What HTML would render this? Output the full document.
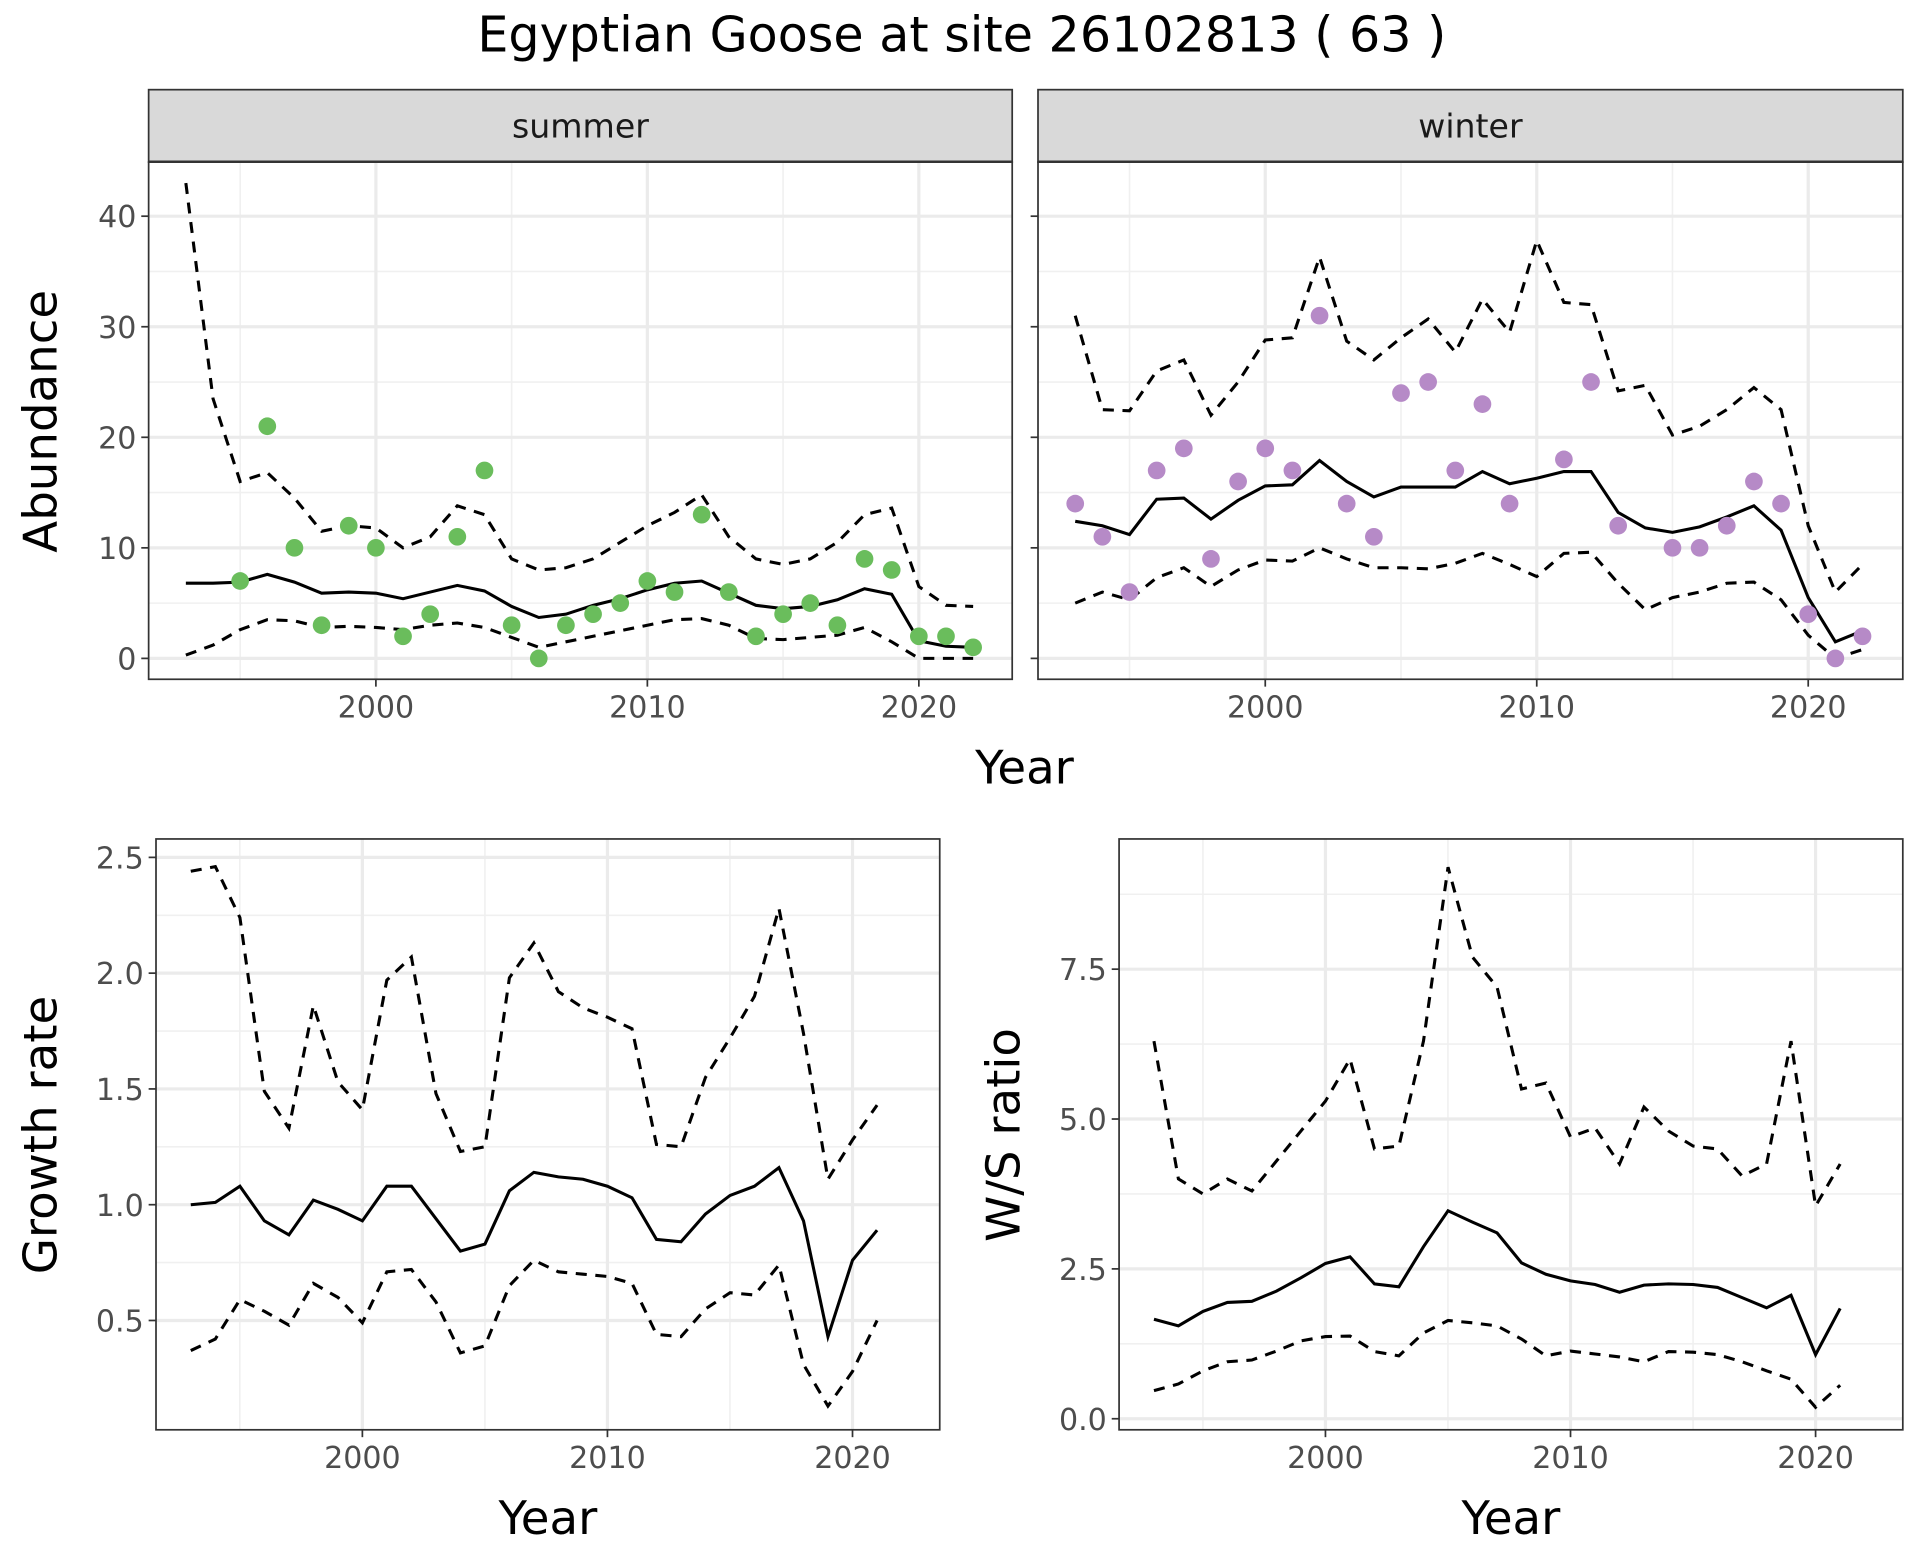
<!DOCTYPE html>
<html><head><meta charset="utf-8"><style>html,body{margin:0;padding:0;background:#fff}svg{display:block;font-family:"DejaVu Sans","Liberation Sans",sans-serif}</style></head>
<body>
<svg id="c" width="1920" height="1560" viewBox="0 0 1563 1270" preserveAspectRatio="none" xmlns="http://www.w3.org/2000/svg"></svg>
<script>
const yearsA = [1993,1994,1995,1996,1997,1998,1999,2000,2001,2002,2003,2004,2005,2006,2007,2008,2009,2010,2011,2012,2013,2014,2015,2016,2017,2018,2019,2020,2021,2022];
const summerPts = [null,null,7,21,10,3,12,10,2,4,11,17,3,0,3,4,5,7,6,13,6,2,4,5,3,9,8,2,2,1];
const summerMean = [6.8,6.8,6.9,7.6,6.9,5.9,6.0,5.9,5.4,6.0,6.6,6.1,4.7,3.7,4.0,4.8,5.4,6.2,6.8,7.0,5.9,4.8,4.5,4.7,5.3,6.3,5.8,1.6,1.1,1.0];
const summerUp = [43,23.5,16,16.8,14.5,11.5,12,11.8,10,11,13.8,13,9,8,8.2,9,10.5,12,13.2,14.8,11,9,8.5,9,10.5,13,13.6,6.5,4.8,4.7];
const summerLo = [0.3,1.2,2.6,3.5,3.4,2.8,2.9,2.8,2.6,3.0,3.2,2.8,1.9,1.0,1.5,2.0,2.5,3.0,3.5,3.6,3.0,1.8,1.7,1.9,2.1,2.8,1.5,0,0,0];
const winterPts = [14,11,6,17,19,9,16,19,17,31,14,11,24,25,17,23,14,null,18,25,12,null,10,10,12,16,14,4,0,2];
const winterMean = [12.4,12.0,11.2,14.4,14.5,12.6,14.3,15.6,15.7,17.9,16.0,14.6,15.5,15.5,15.5,16.9,15.8,16.3,16.9,16.9,13.2,11.8,11.4,11.9,12.8,13.8,11.6,5.5,1.5,2.5];
const winterUp = [31,22.5,22.4,26,27,22,25,28.8,29,36.3,28.7,27,29,30.7,27.7,32.5,29.5,37.8,32.2,32,24.2,24.7,20.2,21,22.5,24.5,22.5,12,6,8.5];
const winterLo = [5,6,5.3,7.3,8.2,6.5,8,8.9,8.8,10,9,8.2,8.2,8.1,8.6,9.5,8.5,7.4,9.5,9.6,6.8,4.4,5.5,6,6.8,6.9,5.3,2.1,0,0.8];
const yearsB = [1993,1994,1995,1996,1997,1998,1999,2000,2001,2002,2003,2004,2005,2006,2007,2008,2009,2010,2011,2012,2013,2014,2015,2016,2017,2018,2019,2020,2021];
const growthMean = [1.0,1.01,1.08,0.93,0.87,1.02,0.98,0.93,1.08,1.08,0.94,0.80,0.83,1.06,1.14,1.12,1.11,1.08,1.03,0.85,0.84,0.96,1.04,1.08,1.16,0.93,0.43,0.76,0.89];
const growthUp = [2.44,2.46,2.24,1.49,1.33,1.86,1.53,1.41,1.97,2.07,1.48,1.23,1.25,1.98,2.13,1.92,1.85,1.81,1.76,1.26,1.25,1.55,1.72,1.90,2.28,1.74,1.11,1.28,1.43];
const growthLo = [0.37,0.42,0.59,0.54,0.48,0.66,0.60,0.49,0.71,0.72,0.58,0.36,0.39,0.65,0.76,0.71,0.70,0.69,0.66,0.44,0.43,0.55,0.62,0.61,0.74,0.31,0.13,0.28,0.50];
const wsMean = [1.66,1.55,1.79,1.94,1.96,2.13,2.35,2.59,2.70,2.25,2.20,2.87,3.47,3.28,3.10,2.60,2.41,2.30,2.24,2.11,2.23,2.25,2.24,2.19,2.02,1.85,2.06,1.07,1.84];
const wsUp = [6.3,4.0,3.75,4.0,3.8,4.3,4.8,5.3,6.0,4.5,4.55,6.3,9.2,7.7,7.2,5.5,5.6,4.7,4.85,4.25,5.2,4.8,4.55,4.5,4.05,4.25,6.3,3.55,4.25];
const wsLo = [0.47,0.58,0.80,0.95,0.98,1.13,1.30,1.37,1.38,1.12,1.05,1.43,1.64,1.60,1.55,1.33,1.05,1.13,1.08,1.03,0.95,1.12,1.11,1.07,0.95,0.80,0.66,0.19,0.56];
const xTicks = [2000,2010,2020];
const xMinor = [1995,2005,2015];
const abTicks = [0,10,20,30,40];
const abMinor = [5,15,25,35];
const grTicks = [0.5,1.0,1.5,2.0,2.5];
const grMinor = [0.75,1.25,1.75,2.25];
const wsTicks = [0,2.5,5.0,7.5];
const wsMinor = [1.25,3.75,6.25,8.75];

const svg = document.getElementById('c');
const NS='http://www.w3.org/2000/svg';
function el(tag, attrs, parent, txt){const e=document.createElementNS(NS,tag);for(const k in attrs)e.setAttribute(k,attrs[k]);if(txt!==undefined)e.textContent=txt;(parent||svg).appendChild(e);return e;}
function lin(d0,d1,r0,r1){return v=>r0+(v-d0)*(r1-r0)/(d1-d0);}

function panel(o){
  const g=el('g',{});
  
  
  const X=lin(2000,2020,o.x2000,o.x2020), Y=lin(o.y0v,o.y1v,o.y0,o.y1);
  el('rect',{x:o.l,y:o.t,width:o.r-o.l,height:o.b-o.t,fill:'#fff'},g);
  o.yMinor.forEach(v=>el('line',{x1:o.l,x2:o.r,y1:Y(v),y2:Y(v),stroke:'#f0f0f0','stroke-width':1.3},g));
  xMinor.forEach(v=>el('line',{x1:X(v),x2:X(v),y1:o.t,y2:o.b,stroke:'#f0f0f0','stroke-width':1.3},g));
  o.yTicks.forEach(v=>el('line',{x1:o.l,x2:o.r,y1:Y(v),y2:Y(v),stroke:'#ebebeb','stroke-width':2.6},g));
  xTicks.forEach(v=>el('line',{x1:X(v),x2:X(v),y1:o.t,y2:o.b,stroke:'#ebebeb','stroke-width':2.6},g));
  function path(ys,years,dash,nm){let d='';ys.forEach((v,i)=>{if(v===null)return;d+=(d?'L':'M')+X(years[i]).toFixed(1)+','+Y(v).toFixed(1);});
    const p=el('path',{d:d,fill:'none',stroke:'#000','stroke-width':2.5,'stroke-dasharray':dash?'9,7':'none'},g);
    
    }
  path(o.up,o.years,true,'upper-bound-line');
  path(o.lo,o.years,true,'lower-bound-line');
  path(o.mean,o.years,false,'mean-line');
  if(o.pts){o.pts.forEach((v,i)=>{if(v===null)return;const c=el('circle',{cx:X(o.years[i]),cy:Y(v),r:7.2,fill:o.col},g);
    
    });}
  el('rect',{x:o.l,y:o.t,width:o.r-o.l,height:o.b-o.t,fill:'none',stroke:'#333','stroke-width':1.4},g);
  xTicks.forEach(v=>{el('line',{x1:X(v),x2:X(v),y1:o.b,y2:o.b+6,stroke:'#333','stroke-width':1.4},g);
    el('text',{x:X(v),y:o.b+31,'text-anchor':'middle','font-size':24.5,fill:'#4d4d4d'},g,String(v));});
  o.yTicks.forEach(v=>{el('line',{x1:o.l-6,x2:o.l,y1:Y(v),y2:Y(v),stroke:'#333','stroke-width':1.4},g);
    if(o.ylab)el('text',{x:o.l-10,y:Y(v)+9,'text-anchor':'end','font-size':24.5,fill:'#4d4d4d'},g,o.fmt(v));});
}
el('text',{x:783,y:42,'text-anchor':'middle','font-size':40,fill:'#000',},svg,'Egyptian Goose at site 26102813 ( 63 )');
[['summer',121,824],['winter',845,1549]].forEach(s=>{
  el('rect',{x:s[1],y:73,width:s[2]-s[1],height:59,fill:'#d9d9d9',stroke:'#333','stroke-width':1.4,});
  el('line',{x1:s[1],x2:s[2],y1:132,y2:132,stroke:'#333','stroke-width':2.6});
  el('text',{x:(s[1]+s[2])/2,y:112,'text-anchor':'middle','font-size':27,fill:'#1a1a1a'},svg,s[0]);
});
const f0=v=>String(v), f1=v=>v.toFixed(1);
panel({name:'summer-panel',l:121,r:824,t:132,b:553,x2000:306,x2020:748,y0v:0,y1v:40,y0:536,y1:176,yTicks:abTicks,yMinor:abMinor,years:yearsA,mean:summerMean,up:summerUp,lo:summerLo,pts:summerPts,col:'#6abd5c',ylab:true,fmt:f0});
panel({name:'winter-panel',l:845,r:1549,t:132,b:553,x2000:1030,x2020:1472,y0v:0,y1v:40,y0:536,y1:176,yTicks:abTicks,yMinor:abMinor,years:yearsA,mean:winterMean,up:winterUp,lo:winterLo,pts:winterPts,col:'#b68ac7',ylab:false,fmt:f0});
panel({name:'growth-panel',l:127,r:765,t:683,b:1164,x2000:295,x2020:694,y0v:0.5,y1v:2.5,y0:1075,y1:698,yTicks:grTicks,yMinor:grMinor,years:yearsB,mean:growthMean,up:growthUp,lo:growthLo,ylab:true,fmt:f1});
panel({name:'ws-ratio-panel',l:911,r:1549,t:683,b:1164,x2000:1079,x2020:1478,y0v:0,y1v:7.5,y0:1155,y1:789,yTicks:wsTicks,yMinor:wsMinor,years:yearsB,mean:wsMean,up:wsUp,lo:wsLo,ylab:true,fmt:f1});
el('text',{x:834,y:638,'text-anchor':'middle','font-size':38,fill:'#000',},svg,'Year');
el('text',{x:446,y:1249,'text-anchor':'middle','font-size':38,fill:'#000',},svg,'Year');
el('text',{x:1230,y:1249,'text-anchor':'middle','font-size':38,fill:'#000',},svg,'Year');
el('text',{x:0,y:0,transform:'translate(46,343) rotate(-90)','text-anchor':'middle','font-size':38,fill:'#000',},svg,'Abundance');
el('text',{x:0,y:0,transform:'translate(46,924) rotate(-90)','text-anchor':'middle','font-size':38,fill:'#000',},svg,'Growth rate');
el('text',{x:0,y:0,transform:'translate(830,924) rotate(-90)','text-anchor':'middle','font-size':38,fill:'#000',},svg,'W/S ratio');
</script>
</body></html>
